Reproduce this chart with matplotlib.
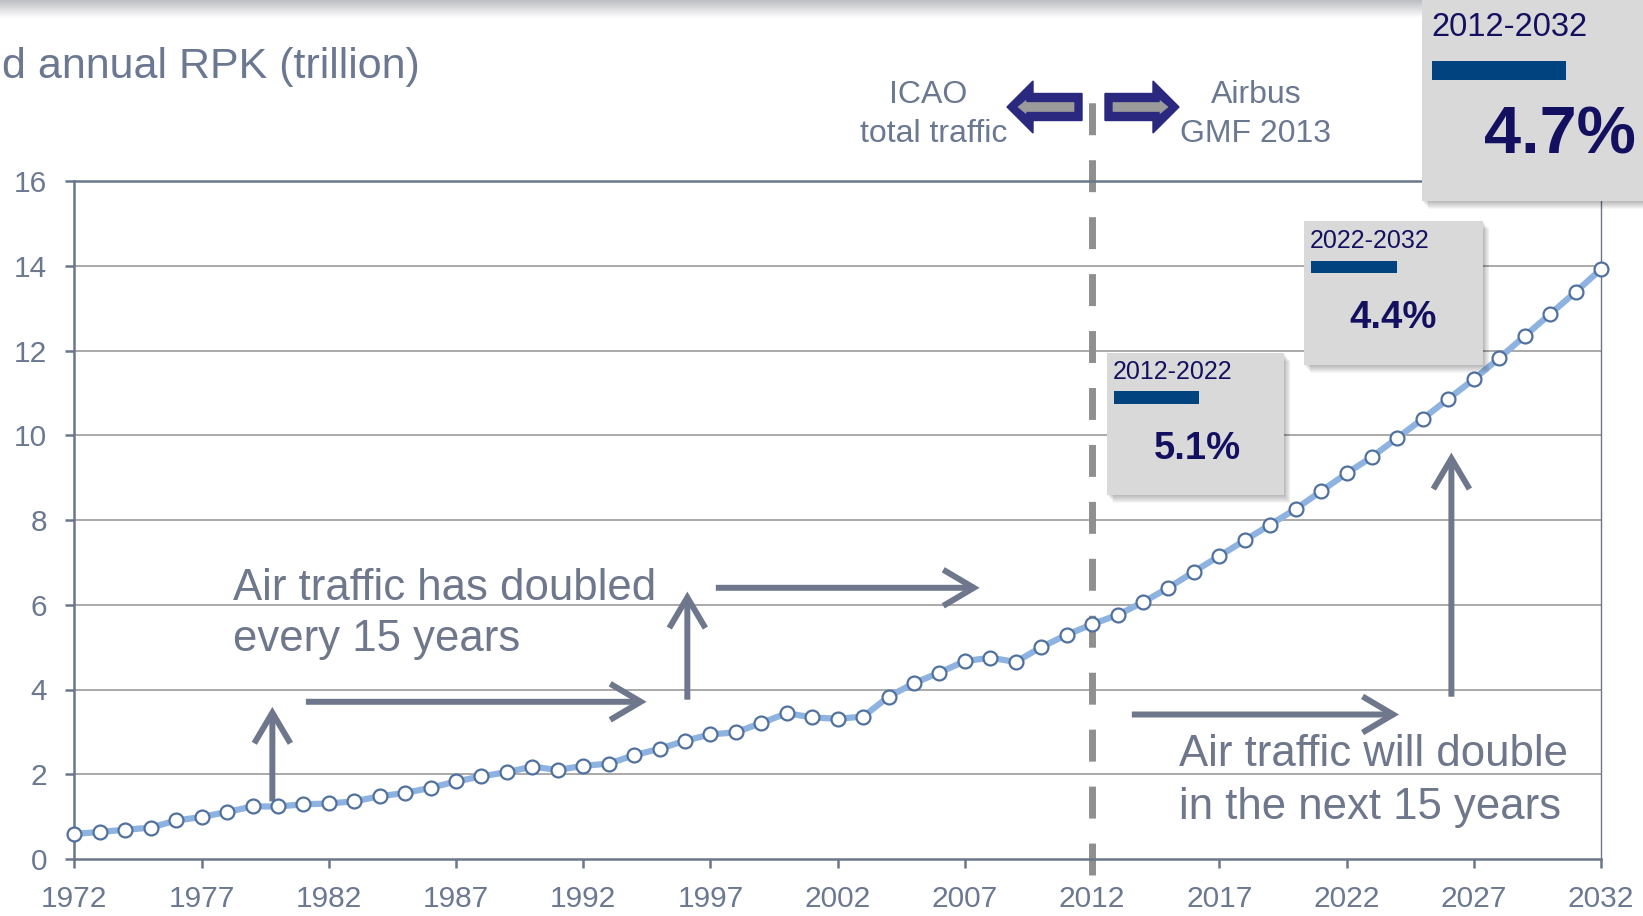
import matplotlib
matplotlib.use("Agg")
import matplotlib.pyplot as plt
import numpy as np
from matplotlib.patches import Rectangle, FancyArrow, FancyArrowPatch

plt.rcParams['font.family'] = ['Liberation Sans', 'DejaVu Sans']

# ---------------- data ----------------
years = list(range(1972, 2033))
rpk = [0.59, 0.64, 0.69, 0.74, 0.91, 0.99, 1.11, 1.24, 1.24, 1.29,
       1.31, 1.36, 1.48, 1.56, 1.68, 1.83, 1.95, 2.05, 2.18, 2.10,
       2.20, 2.25, 2.45, 2.60, 2.79, 2.94, 2.99, 3.21, 3.44, 3.34,
       3.31, 3.36, 3.83, 4.15, 4.40, 4.67, 4.75, 4.65, 5.00, 5.29,
       5.54, 5.76, 6.06, 6.40, 6.78, 7.15, 7.52, 7.89, 8.26, 8.68,
       9.10, 9.49, 9.94, 10.39, 10.86, 11.32, 11.82, 12.34, 12.86, 13.38,
       13.92]
x_ticks = [1972, 1977, 1982, 1987, 1992, 1997, 2002, 2007, 2012, 2017, 2022, 2027, 2032]
y_ticks = [0, 2, 4, 6, 8, 10, 12, 14, 16]
split_year = 2012
title = "d annual RPK (trillion)"
box_periods = ["2012-2022", "2022-2032", "2012-2032"]
box_rates = ["5.1%", "4.4%", "4.7%"]

# ---------------- styles ----------------
W, H = 1643, 916
AX_COL = '#6b768a'
TXT_COL = '#6b7891'
ARR_COL = '#6e778b'
NAVY = '#141060'
BAR_COL = '#00437f'
BOX_COL = '#d9d9d9'

fig = plt.figure(figsize=(W / 100, H / 100), dpi=100)
fig.patch.set_facecolor('white')

L, R, B, T = 74.4, 1601, 859, 181
ax = fig.add_axes([L / W, 1 - B / H, (R - L) / W, (B - T) / H])
ax.set_xlim(1972, 2032)
ax.set_ylim(0, 16)

for s in ['left', 'bottom', 'top']:
    ax.spines[s].set_color(AX_COL)
    ax.spines[s].set_linewidth(1.8)
ax.spines['right'].set_color(AX_COL)
ax.spines['right'].set_linewidth(1.0)

ax.set_xticks(x_ticks)
ax.set_yticks(y_ticks)
ax.tick_params(axis='both', direction='out', length=6.5, width=1.8, color=AX_COL,
               labelcolor=TXT_COL, labelsize=21.5)
ax.tick_params(axis='y', pad=13)
ax.tick_params(axis='x', pad=12)
for yv in y_ticks[1:-1]:
    ax.axhline(yv, color='#a9a9a9', lw=1.4, zorder=1)

# dashed separator
ax.axvline(split_year, ymin=(B - 875) / (B - T), ymax=(B - 97) / (B - T),
           color='#8f8f8f', lw=5, dashes=(4.6, 3.6), clip_on=False, zorder=2)

# data line
ax.plot(years, rpk, color='#8fb3e0', lw=4.5, marker='o', ms=10, mfc='white',
        mec='#50709e', mew=1.6, clip_on=False, zorder=6)

# gray annotation arrows (data coords)
arrows = [((1979.78, 1.36), (1979.78, 3.59)),
          ((1981.10, 3.71), (1994.49, 3.71)),
          ((1996.09, 3.76), (1996.09, 6.31)),
          ((1997.21, 6.40), (2007.58, 6.40)),
          ((2013.56, 3.41), (2024.06, 3.41)),
          ((2026.12, 3.83), (2026.12, 9.59))]
for p0, p1 in arrows:
    ax.add_patch(FancyArrowPatch(p0, p1, arrowstyle='->,head_length=1.1,head_width=0.65',
                                 mutation_scale=20, color=ARR_COL, lw=4.3,
                                 joinstyle='miter', capstyle='butt',
                                 shrinkA=0, shrinkB=0, clip_on=False, zorder=4))

# ---------------- overlay in pixel coords ----------------
ov = fig.add_axes([0, 0, 1, 1], zorder=10)
ov.set_xlim(0, W)
ov.set_ylim(H, 0)
ov.axis('off')

# top gradient band
grad = np.linspace(0, 1, 50).reshape(-1, 1)
ov.imshow(grad, extent=[0, W, 18, 0], cmap=matplotlib.colors.LinearSegmentedColormap.from_list(
    'g', ['#bdbec3', '#ffffff']), aspect='auto', zorder=1)
ov.set_xlim(0, W)
ov.set_ylim(H, 0)

ov.text(2, 67, title, fontsize=31, color=TXT_COL, ha='left', va='center')

ov.text(233, 588, "Air traffic has doubled", fontsize=31.5, color=ARR_COL, ha='left', va='center')
ov.text(233, 639, "every 15 years", fontsize=31.5, color=ARR_COL, ha='left', va='center')
ov.text(1179, 754, "Air traffic will double", fontsize=31.5, color=ARR_COL, ha='left', va='center')
ov.text(1179, 808, "in the next 15 years", fontsize=31.5, color=ARR_COL, ha='left', va='center')

ov.text(928, 95, "ICAO", fontsize=23, color=TXT_COL, ha='center', va='center')
ov.text(934, 134, "total traffic", fontsize=23, color=TXT_COL, ha='center', va='center')
ov.text(1256, 95, "Airbus", fontsize=23, color=TXT_COL, ha='center', va='center')
ov.text(1255, 134, "GMF 2013", fontsize=23, color=TXT_COL, ha='center', va='center')

# block arrows ICAO / Airbus
NAVY_A = '#2a287f'
GRAY_A = '#9b9b9b'
ov.add_patch(FancyArrow(1082, 107, -(1082 - 1007), 0, width=27, head_width=52,
                        head_length=26, length_includes_head=True, fc=NAVY_A, ec=NAVY_A, lw=1, zorder=3))
ov.add_patch(FancyArrow(1074, 107, -(1074 - 1018), 0, width=9, head_width=13,
                        head_length=8, length_includes_head=True, fc=GRAY_A, ec=GRAY_A, lw=0.5, zorder=4))
ov.add_patch(FancyArrow(1105, 107, 1179 - 1105, 0, width=27, head_width=52,
                        head_length=26, length_includes_head=True, fc=NAVY_A, ec=NAVY_A, lw=1, zorder=3))
ov.add_patch(FancyArrow(1113, 107, 1168 - 1113, 0, width=9, head_width=13,
                        head_length=8, length_includes_head=True, fc=GRAY_A, ec=GRAY_A, lw=0.5, zorder=4))


def box(x0, y0, x1, y1, z=5):
    for i in range(1, 9):
        ov.add_patch(Rectangle((x0 + i * 0.8, y0 + i * 1.0), x1 - x0, y1 - y0,
                               fc='black', ec='none', alpha=0.035, zorder=z))
    ov.add_patch(Rectangle((x0, y0), x1 - x0, y1 - y0, fc=BOX_COL, ec='none', zorder=z + 0.5))


# box A (2012-2022)
box(1107, 353, 1284, 495)
ov.text(1113, 372, box_periods[0], fontsize=18, color=NAVY, ha='left', va='center', zorder=7)
ov.add_patch(Rectangle((1114, 391), 85, 13, fc=BAR_COL, ec='none', zorder=7))
ov.text(1197, 449, box_rates[0], fontsize=27.5, fontweight='bold', color=NAVY,
        ha='center', va='center', zorder=7)

# box B (2022-2032)
box(1304, 221, 1483, 365)
ov.text(1310, 241, box_periods[1], fontsize=18, color=NAVY, ha='left', va='center', zorder=7)
ov.add_patch(Rectangle((1311, 261), 86, 12, fc=BAR_COL, ec='none', zorder=7))
ov.text(1393, 318, box_rates[1], fontsize=27.5, fontweight='bold', color=NAVY,
        ha='center', va='center', zorder=7)

# box C (2012-2032)
box(1422, -5, 1660, 201)
ov.text(1431, 28, box_periods[2], fontsize=23.5, color=NAVY, ha='left', va='center', zorder=7)
ov.add_patch(Rectangle((1432, 61), 134, 19, fc=BAR_COL, ec='none', zorder=7))
ov.text(1560, 136, box_rates[2], fontsize=48, fontweight='bold', color=NAVY,
        ha='center', va='center', zorder=7)

fig.savefig('out.png', dpi=100, facecolor='white')
